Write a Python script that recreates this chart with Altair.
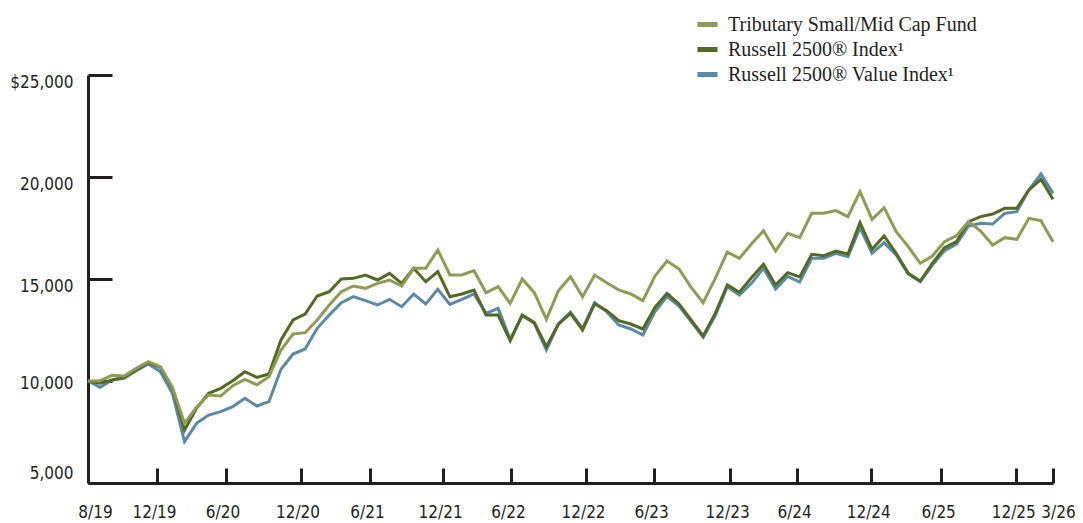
import altair as alt
import pandas as pd

# Growth of $10,000, monthly points from 8/19 (start) to 3/26
fund = [10000, 10016, 10278, 10245, 10621, 10948, 10703, 9690, 7925, 8709,
        9314, 9265, 9771, 10082, 9820, 10212, 11520, 12304, 12369, 12990,
        13726, 14379, 14657, 14543, 14788, 14951, 14657, 15523, 15523, 16422,
        15196, 15196, 15408, 14330, 14624, 13807, 15000, 14330, 13023, 14428,
        15114, 14134, 15196, 14820, 14461, 14265, 13938, 15147, 15882, 15490,
        14592, 13840, 15033, 16324, 16013, 16716, 17369, 16373, 17239, 17030,
        18219, 18219, 18350, 18056, 19282, 17925, 18497, 17320, 16585, 15768,
        16128, 16830, 17124, 17810, 17353, 16667, 17026, 16945, 17974, 17859,
        16830]
r2500 = [10000, 9886, 10049, 10180, 10539, 10899, 10670, 9641, 7598, 8660,
         9396, 9641, 10016, 10457, 10180, 10343, 12010, 12990, 13284, 14167,
         14379, 15000, 15033, 15196, 14951, 15278, 14788, 15523, 14869, 15359,
         14134, 14265, 14461, 13235, 13235, 11977, 13235, 12860, 11683, 12794,
         13317, 12500, 13775, 13448, 12958, 12794, 12549, 13611, 14298, 13775,
         12990, 12206, 13317, 14706, 14347, 15065, 15719, 14706, 15310, 15100,
         16210, 16144, 16373, 16226, 17761, 16455, 17108, 16259, 15278, 14902,
         15768, 16536, 16830, 17810, 18056, 18186, 18464, 18464, 19363, 19886,
         18906]
r2500v = [10000, 9690, 10049, 10131, 10507, 10833, 10457, 9396, 7026, 7925,
          8333, 8497, 8742, 9150, 8775, 8987, 10572, 11324, 11569, 12582,
          13235, 13840, 14134, 13938, 13726, 14003, 13644, 14265, 13775, 14493,
          13758, 14003, 14265, 13317, 13562, 12043, 13202, 12827, 11520, 12794,
          13366, 12582, 13840, 13399, 12745, 12549, 12255, 13399, 14134, 13677,
          12908, 12141, 13202, 14624, 14216, 14788, 15523, 14510, 15130, 14850,
          16013, 16013, 16259, 16095, 17516, 16259, 16781, 16177, 15245, 14869,
          15686, 16389, 16716, 17598, 17729, 17696, 18219, 18301, 19363, 20147,
          19199]

series_names = ["Tributary Small/Mid Cap Fund",
                "Russell 2500\u00ae Index\u00b9",
                "Russell 2500\u00ae Value Index\u00b9"]
series_colors = ["#8e9c55", "#546a23", "#5b8aa7"]

tick_labels = ["8/19", "12/19", "6/20", "12/20", "6/21", "12/21", "6/22", "12/22",
               "6/23", "12/23", "6/24", "12/24", "6/25", "12/25", "3/26"]
tick_pos = [0, 5.72, 11.4, 17.62, 23.38, 29.44, 35.07, 41.29, 46.93, 53.23,
            58.79, 64.93, 70.73, 76.95, 80]
y_ticks = [5000, 10000, 15000, 20000, 25000]

rows = []
# draw order: value index underneath, then Russell 2500, fund on top
for name, vals in [(series_names[2], r2500v), (series_names[1], r2500), (series_names[0], fund)]:
    for i, v in enumerate(vals):
        rows.append({"i": i, "v": v, "s": name})
df = pd.DataFrame(rows)

INK = "#231f20"
AXFONT = "Liberation Sans Narrow, DejaVu Sans Condensed, sans-serif"

label_expr = "[" + ",".join("'%s'" % t for t in tick_labels) + "][indexof([" + \
    ",".join(str(p) for p in tick_pos) + "], datum.value)]"

xscale = alt.Scale(domain=[0, 80], nice=False, zero=False)
yscale = alt.Scale(domain=[5000, 25000], nice=False, zero=False)

lines = alt.Chart(df).mark_line(strokeWidth=3).encode(
    x=alt.X("i:Q", scale=xscale, title=None,
            axis=alt.Axis(orient="bottom", values=tick_pos, labelExpr=label_expr,
                          ticks=False, tickSize=0, grid=False, domainColor=INK,
                          domainWidth=3, labelFont=AXFONT, labelFontSize=17,
                          labelColor=INK, labelPadding=21, labelFlush=False,
                          labelOverlap=False,
                          labelOffset={"condition": [{"test": "datum.value == 0", "value": 7},
                                                     {"test": "datum.value == 80", "value": 5}],
                                       "value": -3})),
    y=alt.Y("v:Q", scale=yscale, title=None,
            axis=alt.Axis(orient="left", values=y_ticks,
                          labelExpr="datum.value == 25000 ? '$25,000' : format(datum.value, ',')",
                          ticks=False, tickSize=0, grid=False, domainColor=INK,
                          domainWidth=3, labelFont=AXFONT, labelFontSize=17,
                          labelColor=INK, labelPadding=15, labelFlush=False,
                          labelOffset={"condition": [{"test": "datum.value == 5000", "value": -10},
                                                     {"test": "datum.value == 10000", "value": 2}],
                                       "value": 7})),
    color=alt.Color("s:N", scale=alt.Scale(domain=series_names, range=series_colors),
                    legend=alt.Legend(orient="none", legendX=607, legendY=-63, title=None,
                                      symbolType="stroke", symbolSize=400,
                                      symbolStrokeWidth=5, labelFont="Liberation Serif",
                                      labelFontSize=20, labelColor=INK, labelOffset=8,
                                      labelLimit=500, rowPadding=2, padding=0)),
)

tick_layer = alt.Chart(df).mark_line(strokeOpacity=0).encode(
    x=alt.X("i:Q", scale=xscale, title=None,
            axis=alt.Axis(orient="top", offset=-408, values=tick_pos[1:], labels=False,
                          domain=False, grid=False, tickSize=15, tickWidth=3,
                          tickColor=INK)),
    y=alt.Y("v:Q", scale=yscale, title=None,
            axis=alt.Axis(orient="right", offset=-965, values=y_ticks, labels=False,
                          domain=False, grid=False, tickSize=24, tickWidth=3,
                          tickColor=INK)),
    detail="s:N",
)

chart = alt.layer(lines, tick_layer).properties(
    width=965, height=408,
    autosize=alt.AutoSizeParams(type="none"),
    padding={"left": 80, "top": 67, "right": 22, "bottom": 40},
    background="white",
).configure_view(stroke=None)

chart.save("out.html", embed_options={"renderer": "svg", "actions": False})
